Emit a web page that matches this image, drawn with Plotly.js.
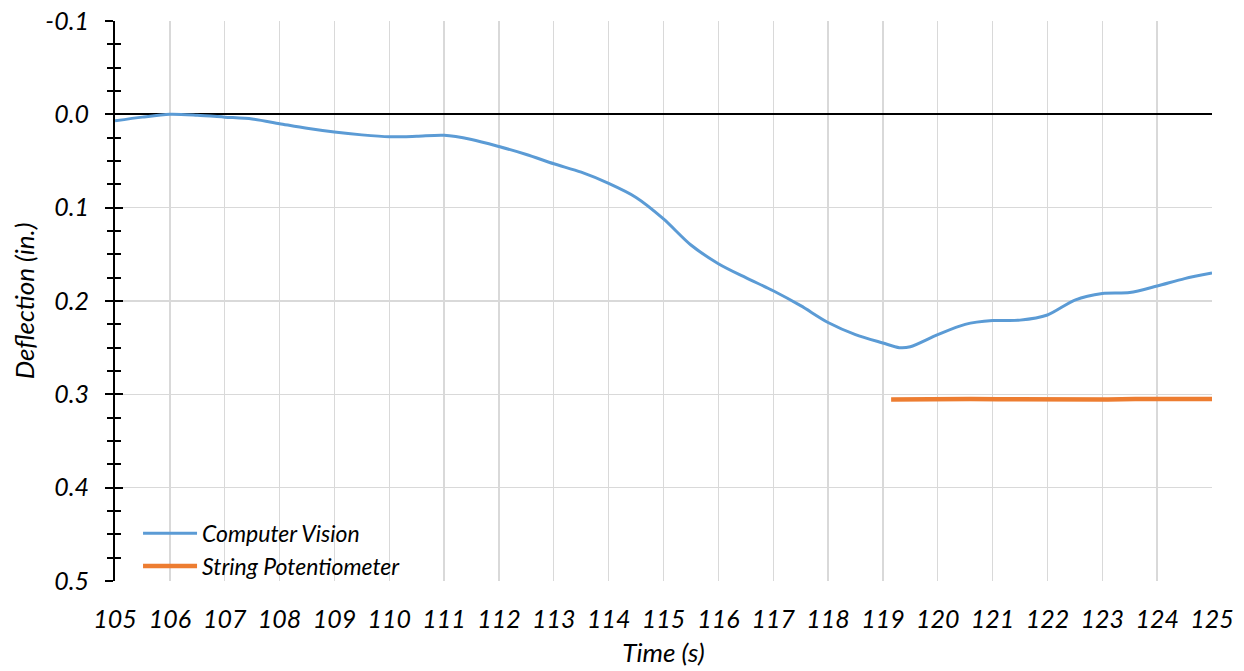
<!DOCTYPE html>
<html>
<head>
<meta charset="utf-8">
<script src="https://cdn.plot.ly/plotly-3.0.1.min.js"></script>
<style>html,body{margin:0;padding:0;background:#fff;}#chart{width:1244px;height:671px;}</style>
</head>
<body>
<div id="chart"></div>
<script>
const cvTime = [105, 105.5, 106, 106.5, 107, 107.5, 108, 108.5, 109, 109.5, 110, 110.5, 111, 111.5, 112, 112.5, 113, 113.5, 114, 114.5, 115, 115.5, 116, 116.5, 117, 117.5, 118, 118.5, 119, 119.3, 119.5, 120, 120.5, 121, 121.5, 122, 122.5, 123, 123.5, 124, 124.5, 125];
const cvDeflection = [0.007, 0.003, 0.0, 0.001, 0.003, 0.005, 0.010, 0.015, 0.019, 0.022, 0.024, 0.0235, 0.0225, 0.027, 0.0345, 0.043, 0.053, 0.062, 0.074, 0.089, 0.112, 0.140, 0.160, 0.175, 0.189, 0.205, 0.223, 0.236, 0.245, 0.250, 0.249, 0.236, 0.225, 0.221, 0.2205, 0.215, 0.199, 0.192, 0.191, 0.184, 0.176, 0.170];
const spTime = [119.15, 119.6, 120.1, 120.6, 121.1, 121.6, 122.1, 122.6, 123.1, 123.6, 124.1, 124.6, 125];
const spDeflection = [0.3055, 0.305, 0.3055, 0.305, 0.3052, 0.3055, 0.305, 0.3053, 0.3055, 0.305, 0.3052, 0.3055, 0.305];
const seriesNames = ["Computer Vision", "String Potentiometer"];
const xTicks = [105,106,107,108,109,110,111,112,113,114,115,116,117,118,119,120,121,122,123,124,125];
const yTicks = [-0.1, 0, 0.1, 0.2, 0.3, 0.4, 0.5];
const yTickText = ["-0.1", "0.0", "0.1", "0.2", "0.3", "0.4", "0.5"];

const FONT = "Lato, 'Open Sans', sans-serif";

const traces = [
  {x: cvTime, y: cvDeflection, name: seriesNames[0], type: 'scatter', mode: 'lines',
   line: {color: '#5B9BD5', width: 3, shape: 'spline', smoothing: 0.8}},
  {x: spTime, y: spDeflection, name: seriesNames[1], type: 'scatter', mode: 'lines',
   line: {color: '#ED7D31', width: 4.5}},
  {x: [105], y: [0], yaxis: 'y2', mode: 'markers', marker: {opacity: 0}, showlegend: false, hoverinfo: 'skip'}
];

const layout = {
  width: 1244, height: 671,
  margin: {l: 115, r: 32, t: 21, b: 90},
  paper_bgcolor: '#fff', plot_bgcolor: '#fff',
  font: {family: FONT, color: '#000', style: 'italic'},
  showlegend: true,
  legend: {x: 0.021, y: -0.012, xanchor: 'left', yanchor: 'bottom', bgcolor: 'rgba(0,0,0,0)', itemwidth: 54,
           font: {family: FONT, size: 23, color: '#000', style: 'italic'}, tracegroupgap: 0},
  xaxis: {
    range: [105, 125], tickmode: 'array', tickvals: xTicks, ticktext: xTicks.map(String),
    showgrid: true, gridcolor: '#d9d9d9', gridwidth: 1.4,
    zeroline: false, showline: false, ticks: '', ticklabelstandoff: 21,
    tickfont: {family: FONT, size: 25, color: '#000', style: 'italic'},
    title: {text: 'Time (s)', font: {family: FONT, size: 26, color: '#000', style: 'italic'}, standoff: 11}
  },
  yaxis: {
    range: [0.5, -0.1], tickmode: 'array', tickvals: yTicks, ticktext: yTickText,
    showgrid: true, gridcolor: '#d9d9d9', gridwidth: 1.4,
    zeroline: true, zerolinecolor: '#000', zerolinewidth: 1.7,
    showline: true, linecolor: '#000', linewidth: 2,
    ticks: 'outside', ticklen: 8, tickwidth: 2, tickcolor: '#000',
    minor: {tickmode: 'linear', tick0: 0, dtick: 0.025, ticks: 'outside', ticklen: 6, tickwidth: 2, tickcolor: '#000', showgrid: false},
    ticklabelstandoff: 11,
    tickfont: {family: FONT, size: 25, color: '#000', style: 'italic'},
    title: {text: 'Deflection (in.)', font: {family: FONT, size: 26, color: '#000', style: 'italic'}, standoff: 3}
  },
  yaxis2: {
    overlaying: 'y', side: 'left', range: [0.5, -0.1], tickmode: 'array', tickvals: yTicks,
    showgrid: false, zeroline: false, showline: false, showticklabels: false,
    ticks: 'inside', ticklen: 8, tickwidth: 2, tickcolor: '#000',
    minor: {tickmode: 'linear', tick0: 0, dtick: 0.025, ticks: 'inside', ticklen: 6, tickwidth: 2, tickcolor: '#000', showgrid: false}
  }
};

Plotly.newPlot('chart', traces, layout, {displayModeBar: false, staticPlot: true});
</script>
</body>
</html>
